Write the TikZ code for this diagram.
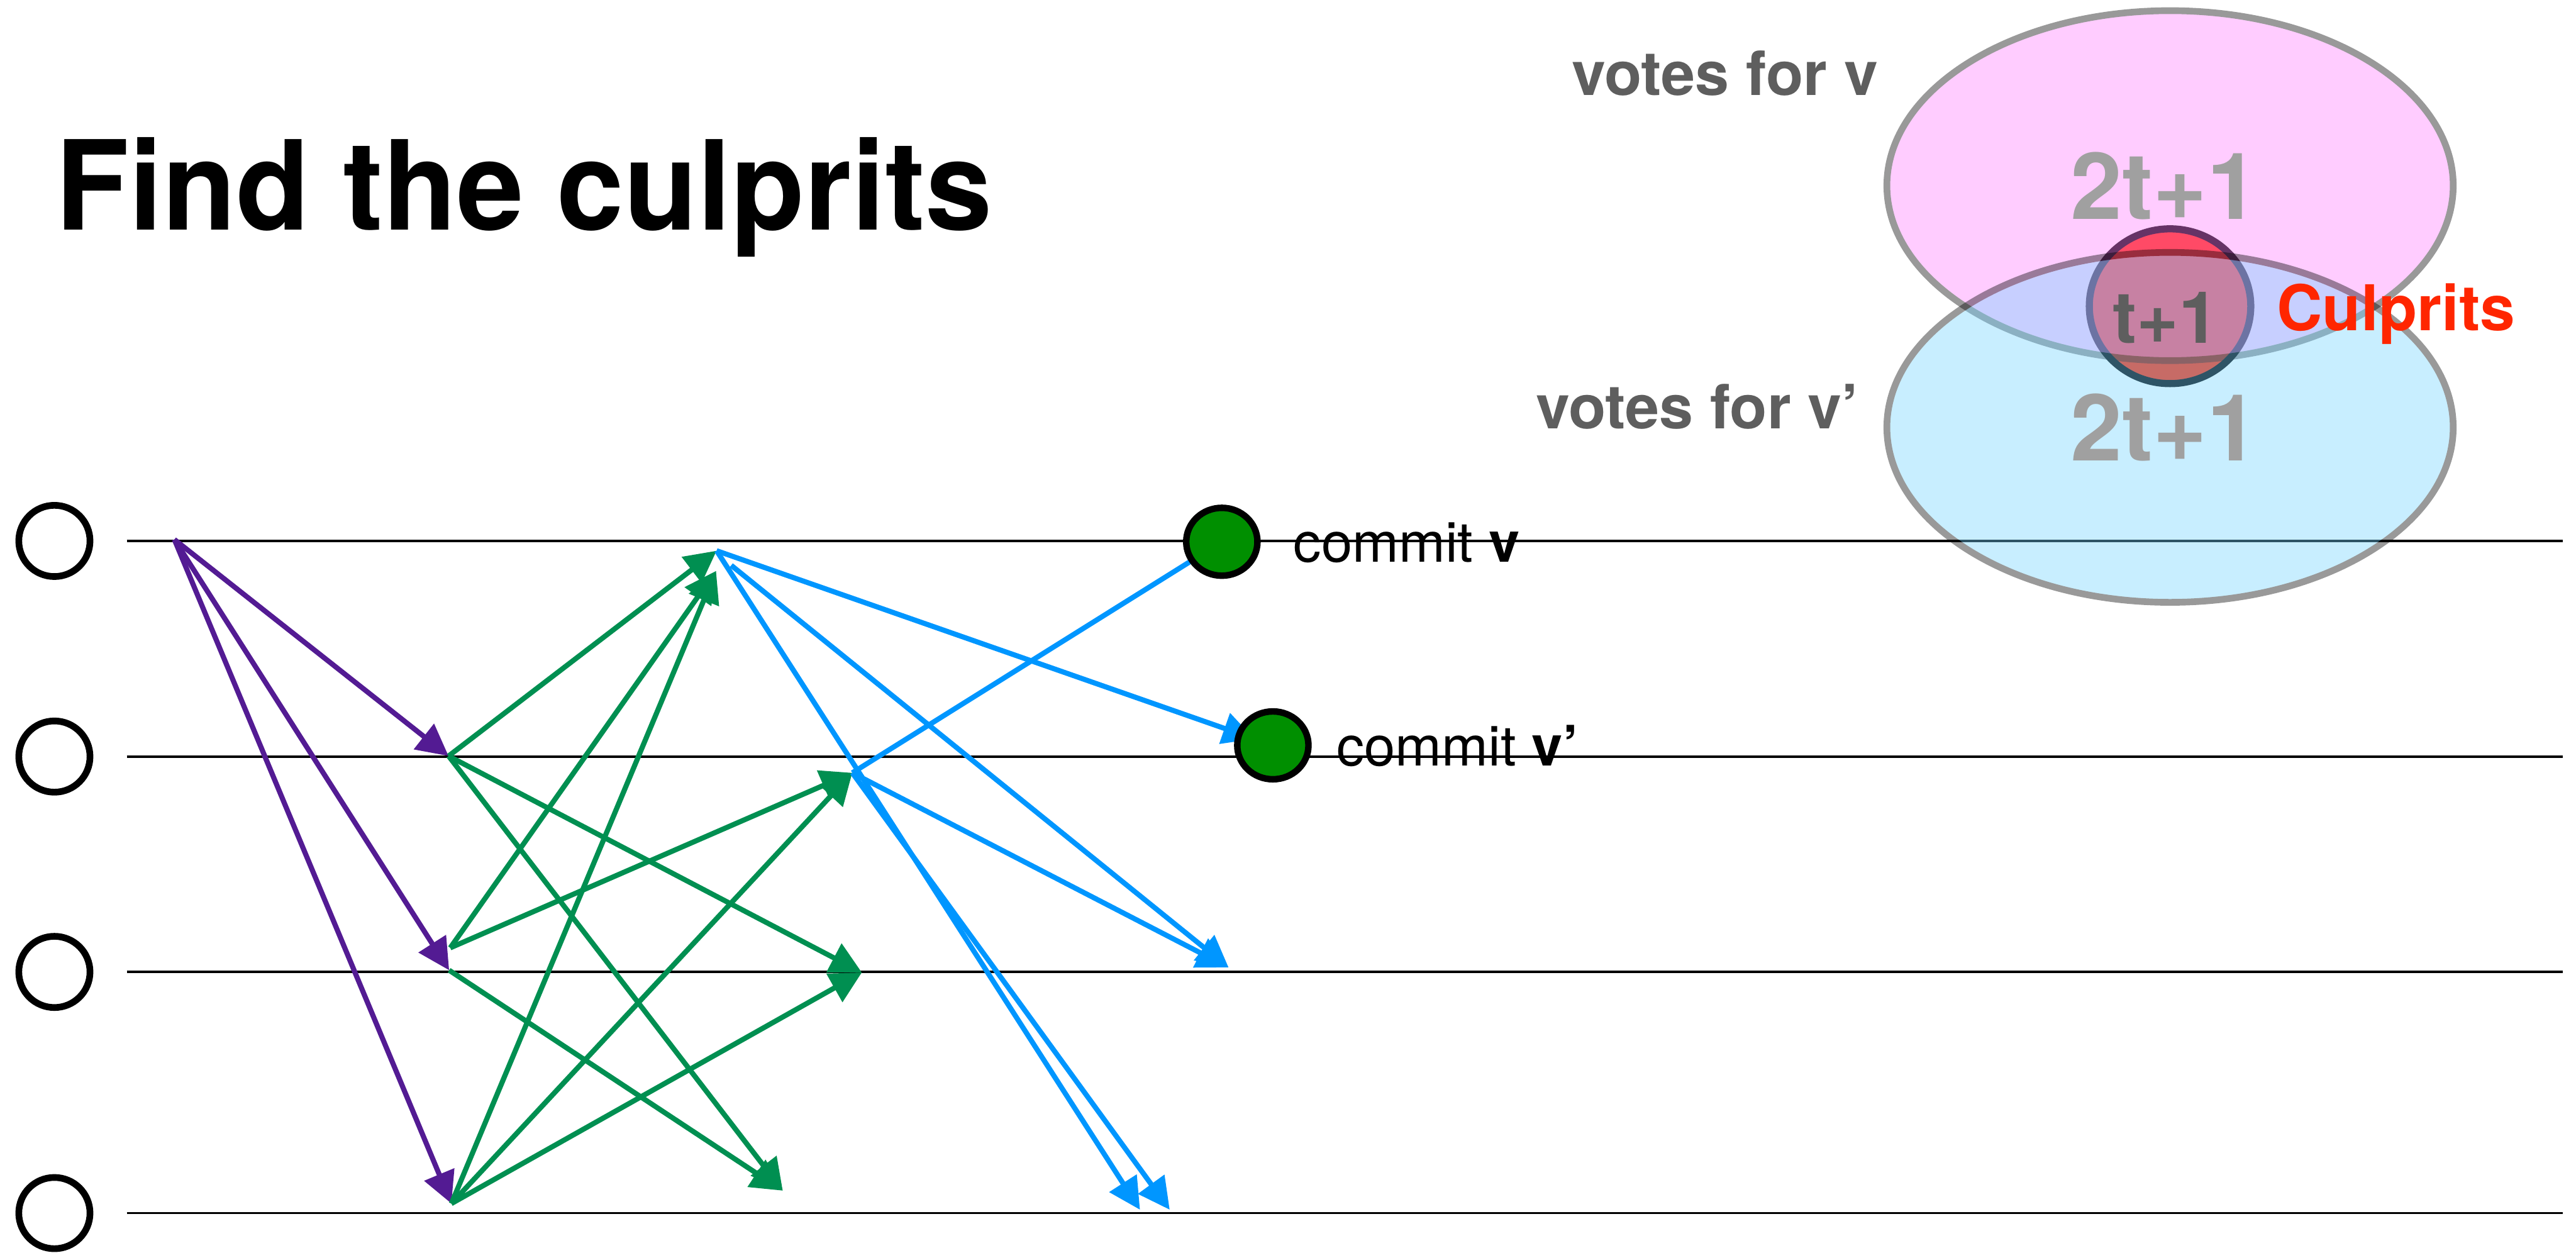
\documentclass[tikz,border=0pt]{standalone}
\usepackage{fontspec}
\setmainfont{TeX Gyre Heros}
\usetikzlibrary{arrows.meta,shapes.geometric,backgrounds}

\definecolor{msgpurple}{RGB}{83,27,147}
\definecolor{msggreen}{RGB}{0,143,81}
\definecolor{msgblue}{RGB}{0,150,255}
\definecolor{commitgreen}{RGB}{0,143,0}
\definecolor{culprit}{RGB}{255,38,0}
\definecolor{votepink}{RGB}{255,128,255}
\definecolor{votecyan}{RGB}{117,212,255}
\definecolor{labelgray}{RGB}{94,94,94}
\definecolor{countgray}{RGB}{160,160,160}

\newcommand\fnttitle{\fontsize{63}{70}\selectfont\bfseries}
\newcommand\fntcount{\fontsize{47}{52}\selectfont\bfseries}
\newcommand\fntoverlap{\fontsize{36.5}{40}\selectfont\bfseries}
\newcommand\fntculprit{\fontsize{32}{37}\selectfont\bfseries}
\newcommand\fntvote{\fontsize{31}{36}\selectfont\bfseries}
\newcommand\fntcommit{\fontsize{28.3}{33}\selectfont}

\tikzset{
  proc/.style={circle, draw, line width=3.4pt, minimum size=1.27cm, inner sep=0pt},
  lane/.style={line width=1.2pt},
  commit/.style={ellipse, draw, line width=3.3pt, fill=commitgreen,
    minimum width=1.27cm, minimum height=1.21cm, inner sep=0pt},
  msg/.style={line width=2.6pt, -{Triangle[length=16pt, width=16pt]}},
  vote/.style={line width=3.4pt},
}

\begin{document}
\begin{tikzpicture}[every node/.append style={inner sep=0pt}]
    \useasboundingbox (0,0) rectangle (45.94,-22.34);

    \node[anchor=base west, font=\fnttitle] (title) at (0.98,-4.10)
      {\scalebox{0.97}[1]{Find the culprits}};

    % processes and their time lines
    \foreach \n/\y in {1/-9.645, 2/-13.49, 3/-17.33, 4/-21.63} {
      \node[proc] (r\n) at (0.97,\y) {};
      \begin{scope}[on background layer]
        \draw[lane] (2.26,\y) -- (45.70,\y);
      \end{scope}
    }

    % commits
    \node[commit] (cv) at (21.79,-9.66) {};
    \node[commit] (cvp) at (22.70,-13.29) {};
    \node[anchor=base west, font=\fntcommit] (cvlabel) at (23.06,-10.02) {commit \textbf{v}};
    \node[anchor=base west, font=\fntcommit] (cvplabel) at (23.83,-13.66) {commit \textbf{v’}};

    % send and receive points
    \coordinate (s1) at (3.11,-9.62);
    \coordinate (g2) at (8.00,-13.48);
    \coordinate (g3) at (8.01,-17.30);
    \coordinate (g3up) at (8.03,-16.90);
    \coordinate (g4) at (8.05,-21.46);
    \coordinate (a1) at (12.78,-9.82);
    \coordinate (a1low) at (12.77,-10.18);
    \coordinate (a1out) at (13.04,-10.08);
    \coordinate (a2) at (15.20,-13.78);
    \coordinate (a3) at (15.37,-17.34);
    \coordinate (a4) at (13.96,-21.23);
    \coordinate (b3) at (21.91,-17.25);
    \coordinate (b4a) at (20.33,-21.57);
    \coordinate (b4b) at (20.86,-21.57);

    \begin{scope}[on background layer]
      % proposal
      \foreach \t in {g2,g3,g4} \draw[msg, msgpurple] (s1) -- (\t);
      % first vote
      \draw[msg, msggreen] (g2) -- (a1);
      \draw[msg, msggreen] (g2) -- (a3);
      \draw[msg, msggreen] (g2) -- (a4);
      \draw[msg, msggreen] (g3up) -- (a1low);
      \draw[msg, msggreen] (g3up) -- (a2);
      \draw[msg, msggreen] (g3) -- (a4);
      \draw[msg, msggreen] (g4) -- (a1low);
      \draw[msg, msggreen] (g4) -- (a2);
      \draw[msg, msggreen] (g4) -- (a3);
      % second vote
      \draw[msg, msgblue, shorten >=0.35cm] (a1) -- (cvp.center);
      \draw[msg, msgblue] (a1out) -- (b3);
      \draw[msg, msgblue] (a1) -- (b4a);
      \draw[line width=2.6pt, msgblue] (a2) -- (cv.center);
      \draw[msg, msgblue] (a2) -- (b3);
      \draw[msg, msgblue] (a2) -- (b4b);
    \end{scope}

    % vote sets
    \draw[line width=3.6pt, fill=culprit] (38.70,-5.46) ellipse [x radius=1.44, y radius=1.38];
    \begin{scope}[transparency group, opacity=0.4]
      \draw[vote, fill=votepink] (38.70,-3.31) ellipse [x radius=5.05, y radius=3.12];
    \end{scope}
    \begin{scope}[transparency group, opacity=0.4]
      \draw[vote, fill=votecyan] (38.70,-7.62) ellipse [x radius=5.05, y radius=3.12];
    \end{scope}
    \node[anchor=base, font=\fntcount, text=countgray] (nv) at (38.60,-3.91) {2t+1};
    \node[anchor=base, font=\fntcount, text=countgray] (nvp) at (38.60,-8.21) {2t+1};
    \node[anchor=base, font=\fntoverlap, text=labelgray] (both) at (38.62,-6.12) {t+1};
    \node[anchor=base west, font=\fntculprit, text=culprit] (culprits) at (40.60,-5.89) {Culprits};
    \node[anchor=base east, font=\fntvote, text=labelgray] (votesv) at (33.50,-1.70) {votes for v};
    \node[anchor=base east, font=\fntvote, text=labelgray] (votesvp) at (33.16,-7.64) {votes for v’};
\end{tikzpicture}
\end{document}
